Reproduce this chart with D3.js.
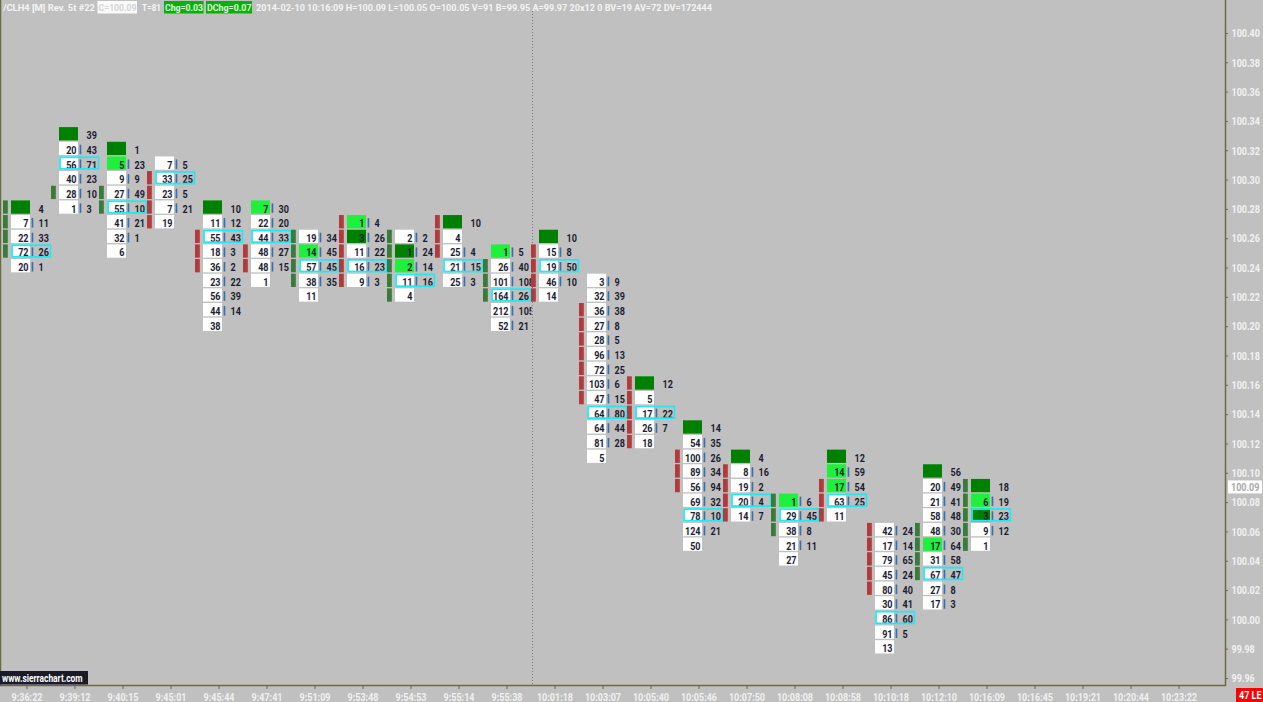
<!DOCTYPE html>
<html>
<head>
<meta charset="utf-8">
<script src="https://cdn.jsdelivr.net/npm/d3@7"></script>
<style>
html, body { margin: 0; padding: 0; background: #c0c0c0; overflow: hidden; }
svg { display: block; }
text { font-family: Roboto, "DejaVu Sans", sans-serif; font-weight: bold; }
</style>
</head>
<body>
<div id="chart"></div>
<script>
const WIDTH = 1263;
const HEIGHT = 702;

// time labels under each bar slot
const times = ["9:36:22", "9:39:12", "9:40:15", "9:45:01", "9:45:44", "9:47:41", "9:51:09",
  "9:53:48", "9:54:53", "9:55:14", "9:55:38", "10:01:18", "10:03:07", "10:05:40", "10:05:46",
  "10:07:50", "10:08:08", "10:08:58", "10:10:18", "10:12:10", "10:16:09", "10:16:45",
  "10:19:21", "10:20:44", "10:23:22"];

// highest price of each footprint bar, rows go down 0.01 each
const barTop = [100.28, 100.33, 100.32, 100.31, 100.28, 100.28, 100.26, 100.27, 100.26, 100.27,
  100.25, 100.26, 100.23, 100.16, 100.13, 100.11, 100.08, 100.11, 100.06, 100.10, 100.09];

const bidVol = [
  [0, 7, 22, 72, 20],
  [0, 20, 56, 40, 28, 1],
  [0, 5, 9, 27, 55, 41, 32, 6],
  [7, 33, 23, 7, 19],
  [0, 11, 55, 18, 36, 23, 56, 44, 38],
  [7, 22, 44, 48, 48, 1],
  [19, 14, 57, 38, 11],
  [1, 3, 11, 16, 9],
  [2, 1, 2, 11, 4],
  [0, 4, 25, 21, 25],
  [1, 26, 101, 164, 212, 52],
  [0, 15, 19, 46, 14],
  [3, 32, 36, 27, 28, 96, 72, 103, 47, 64, 64, 81, 5],
  [0, 5, 17, 26, 18],
  [0, 54, 100, 89, 56, 69, 78, 124, 50],
  [0, 8, 19, 20, 14],
  [1, 29, 38, 21, 27],
  [0, 14, 17, 63, 11],
  [42, 17, 79, 45, 80, 30, 86, 91, 13],
  [0, 20, 21, 58, 48, 17, 31, 67, 27, 17],
  [0, 6, 3, 9, 1]
];

const askVol = [
  [4, 11, 33, 26, 1],
  [39, 43, 71, 23, 10, 3],
  [1, 23, 9, 49, 10, 21, 1, 0],
  [5, 25, 5, 21, 0],
  [10, 12, 43, 3, 2, 22, 39, 14, 0],
  [30, 20, 33, 27, 15, 0],
  [34, 45, 45, 35, 0],
  [4, 26, 22, 23, 3],
  [2, 24, 14, 16, 0],
  [10, 0, 4, 15, 3],
  [5, 40, 108, 26, 105, 21],
  [10, 8, 50, 10, 0],
  [9, 39, 38, 8, 5, 13, 25, 6, 15, 80, 44, 28, 0],
  [12, 0, 22, 7, 0],
  [14, 35, 26, 34, 94, 32, 10, 21, 0],
  [4, 16, 2, 4, 7],
  [6, 45, 8, 11, 0],
  [12, 59, 54, 25, 0],
  [24, 14, 65, 24, 40, 41, 60, 5, 0],
  [56, 49, 41, 48, 30, 64, 58, 47, 8, 3],
  [18, 19, 23, 12, 0]
];

// price with the biggest volume (cyan box)
const pocPrice = [100.25, 100.31, 100.28, 100.30, 100.26, 100.26, 100.24, 100.24, 100.23, 100.24,
  100.22, 100.24, 100.14, 100.14, 100.07, 100.08, 100.07, 100.08, 100.00, 100.03, 100.07];

// open/close body strip at the left of each bar
const bodyHigh = [100.28, 100.29, 100.29, 100.30, 100.26, 100.25, 100.26, 100.27, 100.26, 100.27,
  100.24, 100.25, 100.21, 100.16, 100.11, 100.10, 100.08, 100.09, 100.06, 100.06, 100.09];
const bodyLow = [100.25, 100.29, 100.28, 100.27, 100.24, 100.24, 100.23, 100.23, 100.22, 100.25,
  100.22, 100.22, 100.15, 100.12, 100.09, 100.07, 100.06, 100.07, 100.02, 100.03, 100.05];
const bodyUp = [true, true, true, false, false, false, true, false, true, false,
  true, false, false, false, false, false, true, false, false, true, true];

// imbalance shading of the bid cell: [bar, price]
const darkCells = [[0, 100.28], [1, 100.33], [2, 100.32], [4, 100.28], [7, 100.26], [8, 100.25],
  [9, 100.27], [11, 100.26], [13, 100.16], [14, 100.13], [15, 100.11], [17, 100.11],
  [19, 100.10], [20, 100.09], [20, 100.07]];
const lightCells = [[2, 100.31], [5, 100.28], [6, 100.25], [7, 100.27], [8, 100.24], [10, 100.25],
  [16, 100.08], [17, 100.10], [17, 100.09], [19, 100.05], [20, 100.08]];

const priceTicks = d3.range(0, 23).map(i => +(99.96 + i * 0.02).toFixed(2));
const lastPrice = 100.09;

// header strings
const headerText = ["/CLH4 [M] Rev. 5t #22", "C=100.09", "T=81", "Chg=0.03", "DChg=0.07",
  "2014-02-10 10:16:09 H=100.09 L=100.05 O=100.05 V=91 B=99.95 A=99.97 20x12 0 BV=19 AV=72 DV=172444"];

const AXIS_X = 1225;
const AXIS_Y = 685;
const OLIVE = "#6c6b3e";
const SQUEEZE = 0.82;

// squeeze text horizontally, the chart font is a narrow one
function condense(sel, f) {
  sel.each(function() {
    let w = this.getComputedTextLength();
    d3.select(this).attr("textLength", w * (f || SQUEEZE)).attr("lengthAdjust", "spacingAndGlyphs");
  });
}

let svg = d3.select("#chart")
  .append("svg")
    .attr("width", WIDTH)
    .attr("height", HEIGHT);

let y = d3.scaleLinear()
  .domain([99.96, 100.40])
  .range([678, 33]);

let x = d3.scaleBand()
  .domain(times)
  .range([3, 3 + 48 * times.length]);

const key = p => p.toFixed(2);
const darkSet = new Set(darkCells.map(d => d[0] + "_" + key(d[1])));
const lightSet = new Set(lightCells.map(d => d[0] + "_" + key(d[1])));

// build row records from the arrays
let rows = [];
barTop.forEach((top, k) => {
  bidVol[k].forEach((b, i) => {
    let p = +(top - i * 0.01).toFixed(2);
    rows.push({bar: k, price: p, bid: b, ask: askVol[k][i],
      shade: darkSet.has(k + "_" + key(p)) ? "dark" : (lightSet.has(k + "_" + key(p)) ? "light" : "none")});
  });
});

const CELL_H = 13.3;
const cellTop = p => y(p) - 8.5;

// vertical dotted session line
svg.append("line")
  .attr("x1", 532.5).attr("x2", 532.5)
  .attr("y1", 11).attr("y2", AXIS_Y)
  .attr("stroke", "#7a7a7a")
  .attr("stroke-dasharray", "1,2");

let plot = svg.append("g");

barTop.forEach((top, k) => {
  let x0 = x(times[k]);
  let clipId = "clip" + k;
  svg.append("clipPath").attr("id", clipId)
    .append("rect")
      .attr("x", x0 + 6).attr("y", 0)
      .attr("width", 42.5).attr("height", AXIS_Y);

  let g = plot.append("g").attr("clip-path", "url(#" + clipId + ")");
  let data = rows.filter(r => r.bar === k);

  // bid cells
  g.selectAll("rect.cell")
    .data(data.filter(d => d.bid > 0 || d.shade !== "none"))
    .enter().append("rect")
      .attr("x", x0 + 8)
      .attr("y", d => cellTop(d.price))
      .attr("width", 19)
      .attr("height", CELL_H)
      .attr("fill", d => d.shade === "dark" ? "#008000" : (d.shade === "light" ? "#1ef03c" : "#ffffff"));

  // bid numbers
  g.selectAll("text.bid")
    .data(data.filter(d => d.bid > 0))
    .enter().append("text")
      .attr("x", x0 + 25.5)
      .attr("y", d => y(d.price) + 3.6)
      .attr("text-anchor", "end")
      .attr("font-size", 11)
      .attr("fill", "#1b1b30")
      .text(d => d.bid)
      .call(condense);

  // divider
  g.selectAll("rect.div")
    .data(data.filter(d => d.bid > 0 && d.ask > 0))
    .enter().append("rect")
      .attr("x", x0 + 28.6)
      .attr("y", d => y(d.price) - 5.5)
      .attr("width", 1.7)
      .attr("height", 9.5)
      .attr("fill", "#3d6ea8");

  // ask numbers
  g.selectAll("text.ask")
    .data(data.filter(d => d.ask > 0))
    .enter().append("text")
      .attr("x", x0 + 35.5)
      .attr("y", d => y(d.price) + 3.6)
      .attr("font-size", 11)
      .attr("fill", "#1b1b30")
      .text(d => d.ask)
      .call(condense);

  // point of control box
  let poc = pocPrice[k];
  g.append("rect")
    .attr("x", x0 + 9)
    .attr("y", cellTop(poc) + 0.8)
    .attr("width", 38.6)
    .attr("height", CELL_H - 1.6)
    .attr("fill", "none")
    .attr("stroke", "#22e8f4")
    .attr("stroke-width", 1.8);

  // body strip, one segment per price row
  let nBody = Math.round((bodyHigh[k] - bodyLow[k]) / 0.01) + 1;
  let bodyPrices = d3.range(nBody).map(i => +(bodyHigh[k] - i * 0.01).toFixed(2));
  plot.selectAll(null)
    .data(bodyPrices)
    .enter().append("rect")
      .attr("x", x0)
      .attr("y", p => cellTop(p))
      .attr("width", 4.8)
      .attr("height", CELL_H)
      .attr("fill", bodyUp[k] ? "#3a7b3a" : "#b13a3a");
});

// right price axis
let yAxis = svg.append("g")
  .attr("transform", "translate(" + AXIS_X + ",0)")
  .call(d3.axisRight(y).tickValues(priceTicks).tickFormat(d3.format(".2f")).tickSize(3).tickPadding(3));
yAxis.select(".domain").remove();
yAxis.selectAll(".tick line").attr("stroke", OLIVE);
yAxis.selectAll(".tick text")
  .attr("fill", "#f2f2f2")
  .attr("font-size", 11)
  .attr("font-family", null)
  .attr("dy", "0.34em")
  .attr("x", 6.5 / SQUEEZE)
  .attr("transform", "scale(" + SQUEEZE + ",1)");

// last price marker
svg.append("rect")
  .attr("x", 1228).attr("y", y(lastPrice) - 7)
  .attr("width", 34).attr("height", 13)
  .attr("fill", "#ffffff");
svg.append("text")
  .attr("transform", "translate(1231," + (y(lastPrice) + 4) + ") scale(" + SQUEEZE + ",1)")
  .attr("font-size", 11)
  .attr("fill", "#a8a8a8")
  .text(lastPrice.toFixed(2));

// bottom time axis
let xAxis = svg.append("g")
  .attr("transform", "translate(0," + AXIS_Y + ")")
  .call(d3.axisBottom(x).tickSize(4).tickPadding(4));
xAxis.select(".domain").remove();
xAxis.selectAll(".tick line").attr("stroke", OLIVE);
xAxis.selectAll(".tick text")
  .attr("fill", "#f0f0f0")
  .attr("font-size", 11)
  .attr("font-family", null)
  .attr("transform", "scale(" + SQUEEZE + ",1)");

// frame lines
svg.append("line").attr("x1", 0.5).attr("x2", 0.5).attr("y1", 0).attr("y2", AXIS_Y)
  .attr("stroke", OLIVE).attr("stroke-width", 1.5);
svg.append("line").attr("x1", AXIS_X + 0.5).attr("x2", AXIS_X + 0.5).attr("y1", 0).attr("y2", AXIS_Y + 0.5)
  .attr("stroke", OLIVE).attr("stroke-width", 1.5);
svg.append("line").attr("x1", 0).attr("x2", AXIS_X + 1).attr("y1", AXIS_Y + 0.5).attr("y2", AXIS_Y + 0.5)
  .attr("stroke", OLIVE).attr("stroke-width", 1.5);

// sierrachart tag
svg.append("rect").attr("x", 0).attr("y", 671).attr("width", 88).attr("height", 13.5).attr("fill", "#1a1b26");
svg.append("text").attr("x", 2).attr("y", 681.5).attr("font-size", 10.5)
  .attr("fill", "#ffffff").text("www.sierrachart.com")
  .call(condense, 0.8);

// trade signal box
svg.append("rect").attr("x", 1236).attr("y", 688).attr("width", 27).attr("height", 14).attr("fill", "#ff0000");
svg.append("text")
  .attr("transform", "translate(1239,699) scale(" + SQUEEZE + ",1)")
  .attr("font-size", 11)
  .attr("fill", "#ffffff").text("47 LE");

// header line: left edge and width of each piece, and its box colour
const hdrX = [3, 97.5, 142, 164, 206, 256];
const hdrW = [92, 39.5, 19, 39.5, 46, 456];
const hdrBg = [null, "#fafafa", null, "#00b400", "#00b400", null];
const hdrFg = ["#f4f4f4", "#d4d4d4", "#f4f4f4", "#e6f6e6", "#e6f6e6", "#f4f4f4"];

let hdr = svg.append("g");
headerText.forEach((s, i) => {
  if (hdrBg[i]) {
    hdr.append("rect")
      .attr("x", hdrX[i]).attr("y", 1)
      .attr("width", hdrW[i]).attr("height", 12.5)
      .attr("fill", hdrBg[i]);
  }
  hdr.append("text")
    .attr("x", hdrX[i] + (hdrBg[i] ? 1 : 0))
    .attr("y", 10.8)
    .attr("font-size", 9.8)
    .attr("fill", hdrFg[i])
    .attr("textLength", hdrW[i] - (hdrBg[i] ? 1.5 : 0))
    .attr("lengthAdjust", "spacingAndGlyphs")
    .text(s);
});
</script>
</body>
</html>
